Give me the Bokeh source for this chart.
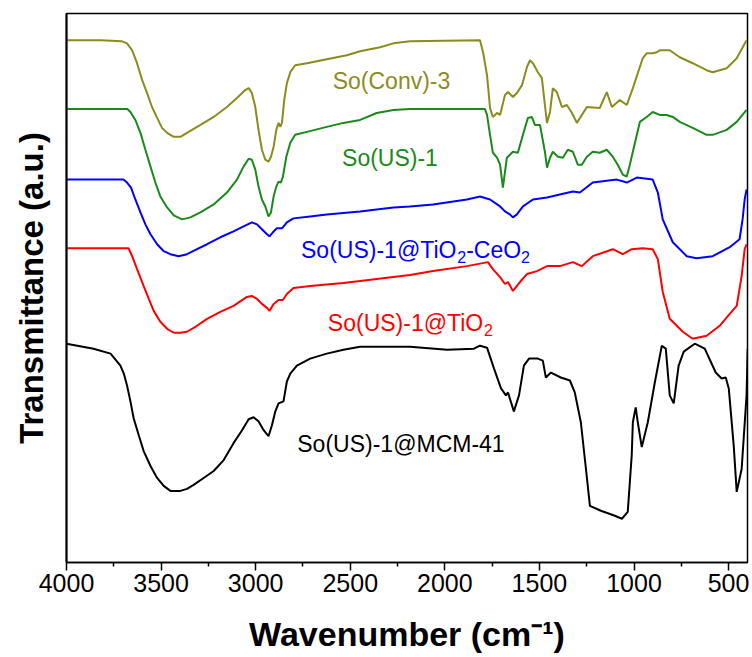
from bokeh.plotting import figure
from bokeh.models import Range1d, FixedTicker, ColumnDataSource
from bokeh.core.properties import value, field
from bokeh.embed import file_html
from bokeh.resources import INLINE

# ---------------- data: (wavenumber cm-1, transmittance a.u., offset-stacked) ----------------
conv3 = [(4000, 525), (3820, 525), (3706, 524), (3680, 522), (3653, 515), (3627, 502), (3600, 485),
         (3574, 472), (3548, 458), (3521, 447), (3495, 437), (3468, 432), (3433, 428), (3398, 428),
         (3363, 432), (3292, 440), (3222, 448), (3152, 458), (3099, 467), (3055, 475), (3037, 477),
         (3020, 472), (3002, 458), (2985, 435), (2967, 415), (2949, 405), (2932, 403), (2919, 408),
         (2905, 418), (2891, 435), (2879, 442), (2870, 438), (2861, 442), (2849, 465), (2835, 482),
         (2817, 493), (2791, 500), (2729, 502), (2624, 506), (2518, 510), (2448, 514), (2342, 518),
         (2272, 522), (2184, 524), (1814, 525), (1798, 513), (1777, 490), (1761, 457), (1746, 448),
         (1724, 452), (1708, 450), (1682, 470), (1666, 473), (1640, 468), (1619, 472), (1592, 480),
         (1566, 498), (1550, 505), (1534, 502), (1508, 493), (1487, 487), (1471, 460), (1460, 442),
         (1444, 453), (1429, 477), (1408, 473), (1381, 458), (1355, 460), (1328, 452), (1302, 442),
         (1249, 458), (1181, 457), (1144, 473), (1117, 458), (1075, 465), (1038, 460), (1006, 477),
         (954, 507), (933, 512), (901, 512), (880, 513), (864, 515), (811, 515), (758, 508),
         (690, 502), (616, 495), (584, 493), (510, 497), (457, 507), (405, 525)]

us1 = [(4000, 456), (3678, 456), (3662, 453), (3636, 445), (3609, 432), (3583, 415), (3556, 398),
       (3530, 382), (3504, 368), (3468, 357), (3433, 349), (3389, 345), (3345, 347), (3292, 352),
       (3222, 360), (3152, 372), (3099, 385), (3064, 398), (3037, 406), (3020, 405), (3002, 395),
       (2985, 378), (2967, 365), (2949, 358), (2932, 348), (2919, 352), (2905, 368), (2891, 378),
       (2879, 383), (2867, 382), (2856, 388), (2838, 408), (2817, 422), (2791, 430), (2729, 433),
       (2624, 438), (2536, 442), (2448, 445), (2360, 452), (2272, 455), (2184, 456), (1788, 456),
       (1777, 450), (1761, 430), (1746, 412), (1724, 407), (1708, 400), (1693, 377), (1672, 407),
       (1656, 410), (1640, 413), (1614, 412), (1587, 430), (1561, 447), (1540, 448), (1524, 440),
       (1497, 440), (1471, 413), (1460, 397), (1444, 407), (1429, 413), (1402, 408), (1376, 407),
       (1350, 415), (1323, 413), (1297, 400), (1276, 400), (1249, 408), (1218, 413), (1181, 412),
       (1144, 415), (1112, 408), (1086, 400), (1059, 390), (1038, 388), (1022, 400), (1006, 413),
       (985, 430), (969, 443), (933, 448), (901, 453), (864, 450), (827, 450), (795, 448),
       (758, 443), (690, 437), (616, 430), (584, 430), (510, 435), (457, 443), (405, 455)]

tio2_ceo2 = [(4000, 385), (3699, 385), (3680, 382), (3659, 377), (3636, 365), (3609, 352), (3583, 340),
             (3556, 330), (3521, 320), (3486, 313), (3451, 310), (3407, 308), (3363, 310), (3310, 315),
             (3257, 320), (3187, 327), (3117, 333), (3064, 338), (3020, 342), (2993, 340), (2967, 335),
             (2940, 330), (2927, 328), (2909, 332), (2888, 336), (2861, 336), (2835, 342), (2800, 346),
             (2712, 348), (2624, 350), (2448, 353), (2272, 357), (2184, 358), (2062, 360), (1883, 365),
             (1814, 368), (1761, 365), (1708, 358), (1682, 353), (1656, 350), (1640, 347), (1619, 350),
             (1587, 358), (1534, 365), (1460, 367), (1392, 370), (1323, 373), (1286, 372), (1218, 382),
             (1091, 385), (1038, 382), (985, 387), (901, 385), (874, 372), (848, 345), (795, 322),
             (721, 308), (669, 306), (584, 308), (494, 317), (442, 325), (426, 345), (415, 365),
             (405, 375)]

tio2 = [(4000, 316), (3672, 316), (3653, 308), (3627, 295), (3592, 278), (3565, 265), (3539, 253),
        (3504, 242), (3468, 235), (3433, 231), (3398, 231), (3363, 232), (3310, 238), (3257, 245),
        (3187, 252), (3117, 258), (3046, 267), (3020, 268), (2993, 265), (2967, 260), (2940, 256),
        (2927, 253), (2905, 260), (2879, 264), (2856, 264), (2835, 270), (2800, 276), (2712, 278),
        (2536, 281), (2360, 285), (2184, 289), (2062, 293), (1883, 298), (1772, 302), (1746, 295),
        (1708, 287), (1682, 280), (1666, 282), (1640, 273), (1603, 282), (1566, 290), (1513, 293),
        (1460, 298), (1392, 298), (1323, 302), (1276, 298), (1218, 308), (1112, 315), (1059, 310),
        (1012, 315), (954, 316), (901, 315), (874, 305), (848, 272), (811, 245), (742, 232),
        (690, 225), (616, 228), (547, 238), (494, 250), (457, 258), (431, 288), (415, 315),
        (405, 320)]

mcm41 = [(4000, 220), (3857, 215), (3767, 210), (3715, 198), (3697, 190), (3680, 178), (3662, 162),
         (3645, 145), (3618, 128), (3592, 112), (3556, 97), (3521, 85), (3486, 77), (3451, 72),
         (3398, 72), (3363, 74), (3328, 78), (3275, 85), (3222, 92), (3169, 103), (3117, 120),
         (3072, 133), (3037, 144), (3011, 146), (2985, 142), (2958, 133), (2932, 127), (2914, 138),
         (2896, 152), (2879, 160), (2853, 162), (2835, 182), (2817, 190), (2782, 198), (2712, 205),
         (2624, 210), (2536, 214), (2448, 217), (2360, 217), (2184, 217), (1988, 214), (1846, 215),
         (1814, 218), (1777, 216), (1740, 195), (1703, 175), (1677, 168), (1666, 171), (1650, 161),
         (1635, 152), (1608, 168), (1582, 198), (1555, 205), (1508, 205), (1482, 203), (1466, 186),
         (1439, 191), (1387, 186), (1339, 183), (1313, 171), (1281, 141), (1254, 94), (1233, 57),
         (1175, 52), (1101, 47), (1064, 44), (1033, 51), (1012, 108), (1006, 141), (991, 156),
         (980, 141), (959, 116), (927, 141), (890, 181), (853, 218), (832, 215), (811, 168),
         (790, 160), (764, 198), (737, 212), (679, 220), (626, 215), (568, 191), (537, 185),
         (515, 186), (499, 175), (473, 118), (457, 71), (431, 94), (405, 168), (399, 215)]

series_names = ["So(Conv)-3", "So(US)-1", "So(US)-1@TiO\u2082-CeO\u2082", "So(US)-1@TiO\u2082", "So(US)-1@MCM-41"]
series_colors = ["#8c8c1e", "#1a8a1a", "#0000ff", "#ff0000", "#000000"]

x_ticks = [4000, 3500, 3000, 2500, 2000, 1500, 1000, 500]
x_minor = [3750, 3250, 2750, 2250, 1750, 1250, 750]

# ---------------- figure ----------------
FONT = "Liberation Sans"
p = figure(width=750, height=655, x_range=Range1d(4000, 400), y_range=Range1d(0, 552),
           output_backend="svg", toolbar_location=None,
           min_border_left=66, min_border_right=3, min_border_top=13, min_border_bottom=90)
p.xgrid.visible = False
p.ygrid.visible = False
p.outline_line_color = "black"
p.outline_line_width = 1.5
p.background_fill_color = "white"

for data, c in zip([conv3, us1, tio2_ceo2, tio2, mcm41], series_colors):
    wn, t = map(list, zip(*data))
    p.line(wn, t, line_color=c, line_width=2)

# ---------------- curve labels (with real subscripts) ----------------
label_x = [2282, 2290, 2155, 2182, 2232]      # label centres (cm-1)
label_y = [484, 407, 314, 241, 119]           # label baselines (a.u.)
MAIN, SUB, SUB_DROP = 23, 16, 7
ADV = {'S': .667, 'o': .556, '(': .333, 'U': .722, ')': .333, '-': .333, '1': .556, '@': 1.015,
       'T': .611, 'i': .222, 'O': .778, 'C': .722, 'e': .556, '2': .556, 'n': .556, 'v': .5,
       '3': .556, 'M': .833, '4': .556}

seg = dict(x=[], y=[], text=[], color=[], fsize=[], xo=[], yo=[])
for name, cx, by, col in zip(series_names, label_x, label_y, series_colors):
    parts = []
    chunks = name.split("\u2082")
    for k, ch in enumerate(chunks):
        if ch:
            parts.append((ch, MAIN, 0))
        if k < len(chunks) - 1:
            parts.append(("2", SUB, SUB_DROP))
    widths = [sum(ADV.get(c, .556) for c in t) * s for t, s, _ in parts]
    start = -sum(widths) / 2
    for (t, s, d), w in zip(parts, widths):
        seg["x"].append(cx); seg["y"].append(by); seg["text"].append(t)
        seg["color"].append(col); seg["fsize"].append(f"{s}px")
        seg["xo"].append(start); seg["yo"].append(d)
        start += w
p.text(x="x", y="y", text="text", text_color="color", source=ColumnDataSource(seg),
       text_font=value(FONT), text_font_size=field("fsize"),
       x_offset="xo", y_offset="yo",
       text_align="left", text_baseline="alphabetic")

# ---------------- x axis ----------------
xa = p.xaxis[0]
xa.ticker = FixedTicker(ticks=x_ticks, minor_ticks=x_minor)
xa.major_tick_out = 8
xa.major_tick_in = 0
xa.minor_tick_out = 4
xa.minor_tick_in = 0
xa.major_tick_line_width = 1.5
xa.minor_tick_line_width = 1.5
xa.axis_line_width = 1.5
xa.major_label_text_font = FONT
xa.major_label_text_font_size = "25px"
xa.major_label_text_color = "black"
xa.major_label_standoff = 3
xa.axis_label = "Wavenumber (cm\u207b\u00b9)"
xa.axis_label_text_font = FONT
xa.axis_label_text_font_style = "bold"
xa.axis_label_text_font_size = "34px"
xa.axis_label_text_color = "black"
xa.axis_label_standoff = 20

# ---------------- y axis ----------------
ya = p.yaxis[0]
ya.ticker = FixedTicker(ticks=[])
ya.major_tick_line_color = None
ya.minor_tick_line_color = None
ya.major_label_text_font_size = "0px"
ya.axis_line_width = 2
ya.axis_label = "Transmittance (a.u.)"
ya.axis_label_text_font = FONT
ya.axis_label_text_font_style = "bold"
ya.axis_label_text_font_size = "33px"
ya.axis_label_text_color = "black"
ya.axis_label_standoff = 17

open("out.html", "w").write(file_html(p, INLINE))
